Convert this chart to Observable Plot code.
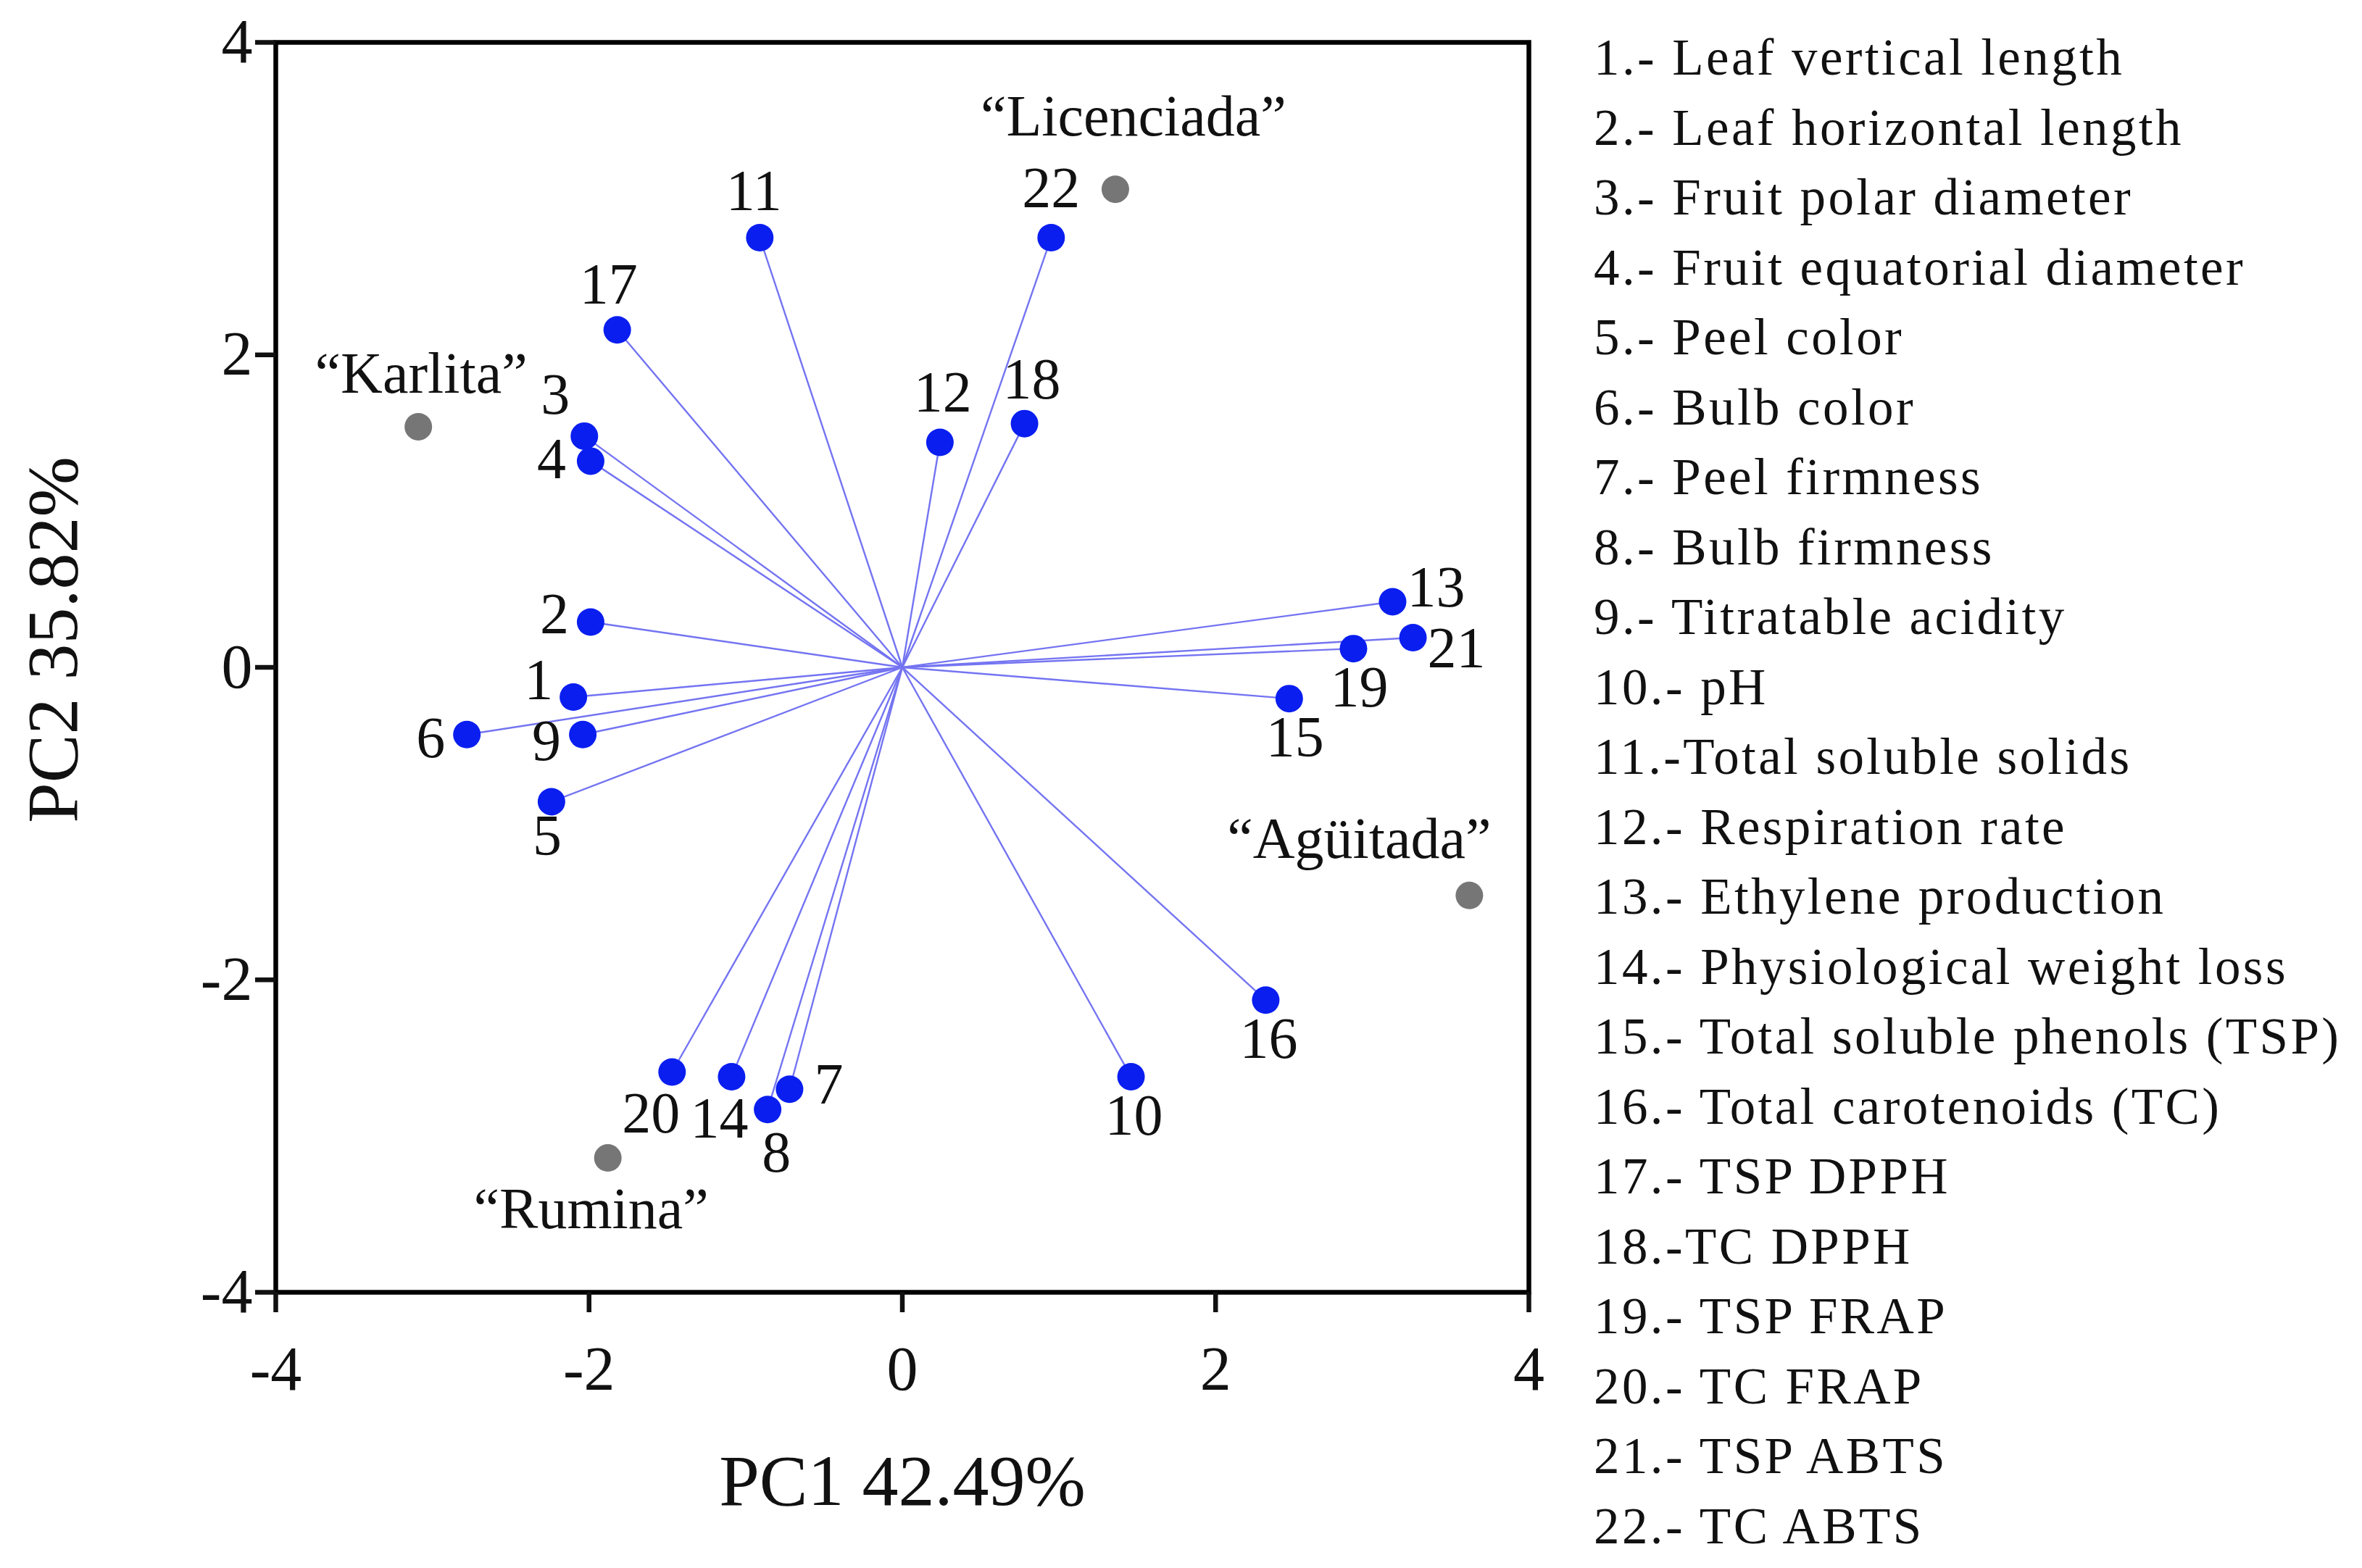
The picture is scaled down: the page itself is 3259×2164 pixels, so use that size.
<!DOCTYPE html>
<html>
<head>
<meta charset="utf-8">
<script src="https://cdn.jsdelivr.net/npm/d3@7"></script>
<script src="https://cdn.jsdelivr.net/npm/@observablehq/plot@0.6"></script>
<style>
  html, body { margin: 0; padding: 0; background: #fff; }
  #wrap { position: relative; width: 3259px; height: 2164px; background: #fff; overflow: hidden; }
  #chart { position: absolute; left: 0; top: 0; }
  #legend { position: absolute; left: 2199px; top: 31px; font-family: "Liberation Serif", serif; font-size: 71px; letter-spacing: 3.4px; line-height: 96.5px; color: #111; white-space: nowrap; }
</style>
</head>
<body>
<div id="wrap"><div id="chart"></div><div id="legend"></div></div>
<script>
// Variable loadings (numbered 1..22)
const variables = [
  "Leaf vertical length", "Leaf horizontal length", "Fruit polar diameter",
  "Fruit equatorial diameter", "Peel color", "Bulb color", "Peel firmness",
  "Bulb firmness", "Titratable acidity", "pH", "Total soluble solids",
  "Respiration rate", "Ethylene production", "Physiological weight loss",
  "Total soluble phenols (TSP)", "Total carotenoids (TC)", "TSP DPPH",
  "TC DPPH", "TSP FRAP", "TC FRAP", "TSP ABTS", "TC ABTS"
];
const legendSep = ["- ", "- ", "- ", "- ", "- ", "- ", "- ", "- ", "- ", "- ", "-",
  "- ", "- ", "- ", "- ", "- ", "- ", "-", "- ", "- ", "- ", "- "];
const pc1 = [-2.10, -1.99, -2.03, -1.99, -2.24, -2.78, -0.72, -0.86, -2.04, 1.46, -0.91,
  0.24, 3.13, -1.09, 2.47, 2.32, -1.82, 0.78, 2.88, -1.47, 3.26, 0.95];
const pc2 = [-0.19, 0.29, 1.48, 1.32, -0.86, -0.43, -2.70, -2.83, -0.43, -2.62, 2.75,
  1.44, 0.42, -2.62, -0.20, -2.13, 2.16, 1.56, 0.12, -2.59, 0.19, 2.75];

// Cultivar scores
const cultivars = ["“Karlita”", "“Licenciada”", "“Agüitada”", "“Rumina”"];
const cultPc1 = [-3.09, 1.36, 3.62, -1.88];
const cultPc2 = [1.54, 3.06, -1.46, -3.14];

const ticks = [-4, -2, 0, 2, 4];

// Label placement (screen px offsets)
const varLabelDx = [-48, -50, -40, -54, -6, -50, 54, 12, -50, 4, -8, 4, 60, -17, 8, 4, -12, 10, 8, -29, 60, 0];
const varLabelDy = [-23, -10, -56, -2, 48, 6, -6, 60, 10, 54, -64, -68, -19, 58, 54, 54, -62, -60, 54, 58, 15, -68];
const cultLabelDx = [4, 25, -152, -23];
const cultLabelDy = [-73, -100, -77, 71];

const idx = d3.range(variables.length);
const cidx = d3.range(cultivars.length);

const marks = [
  Plot.link(idx, {x1: () => 0, y1: () => 0, x2: i => pc1[i], y2: i => pc2[i], stroke: "#7474f2", strokeWidth: 2.4}),
  Plot.dot(idx, {x: i => pc1[i], y: i => pc2[i], r: 19, fill: "#0a1ef0", stroke: "none"}),
  Plot.dot(cidx, {x: i => cultPc1[i], y: i => cultPc2[i], r: 19, fill: "#767676", stroke: "none"}),
  ...idx.map(i => Plot.text([i], {x: j => pc1[j], y: j => pc2[j], text: j => String(j + 1),
    dx: varLabelDx[i], dy: varLabelDy[i], fontSize: 80, fill: "#111"})),
  ...cidx.map(i => Plot.text([i], {x: j => cultPc1[j], y: j => cultPc2[j], text: j => cultivars[j],
    dx: cultLabelDx[i], dy: cultLabelDy[i], fontSize: 80, fill: "#111"})),
  Plot.frame({stroke: "#000", strokeWidth: 6.5}),
  Plot.axisX({ticks, tickSize: 28, tickPadding: 45, strokeWidth: 6.5, fontSize: 86, tickFormat: d => String(d), label: null}),
  Plot.axisY({ticks, tickSize: 28, tickPadding: 4, strokeWidth: 6.5, fontSize: 86, tickFormat: d => String(d), label: null}),
  Plot.text(["PC1 42.49%"], {frameAnchor: "bottom", dy: 293, fontSize: 100, fill: "#111"}),
  Plot.text(["PC2 35.82%"], {frameAnchor: "left", textAnchor: "middle", dx: -307, dy: -38, rotate: -90, fontSize: 100, fill: "#111"})
];

const chart = Plot.plot({
  width: 2149,
  height: 2164,
  marginLeft: 380,
  marginRight: 40,
  marginTop: 58,
  marginBottom: 381,
  x: {domain: [-4, 4]},
  y: {domain: [-4, 4]},
  style: {fontFamily: "Liberation Serif", fontSize: "86px", background: "white", color: "#111"},
  marks
});
document.getElementById("chart").appendChild(chart);

const legend = document.getElementById("legend");
variables.forEach((v, i) => {
  const div = document.createElement("div");
  div.textContent = `${i + 1}.${legendSep[i]}${v}`;
  legend.appendChild(div);
});
</script>
</body>
</html>
